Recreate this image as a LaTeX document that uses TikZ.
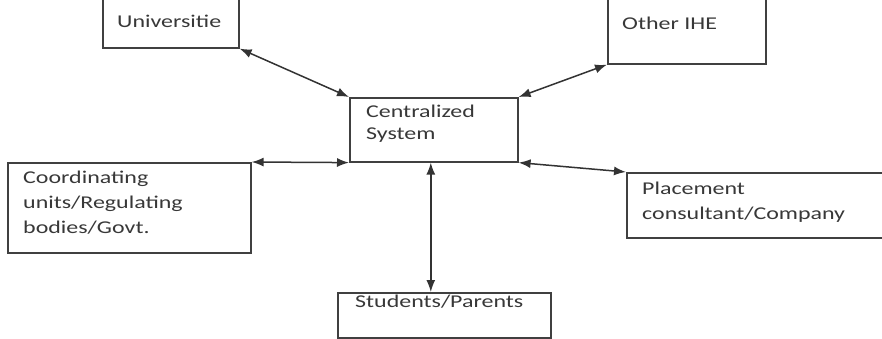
\documentclass[tikz,border=0pt]{standalone}
\usepackage{fontspec}
\setmainfont{Carlito}[FakeStretch=1.33]
\usetikzlibrary{arrows.meta}
\begin{document}
\begin{tikzpicture}[x=1pt,y=-1pt,
  box/.style={draw=black!75,line width=1.6pt,inner sep=0pt,anchor=north west},
  txt/.style={anchor=north west,align=left,inner sep=0pt,text=black!78,font=\fontsize{18}{25}\selectfont},
  link/.style={draw=black!80,line width=1.5pt,{Latex[length=12pt,width=9pt]}-{Latex[length=12pt,width=9pt]}}]
\useasboundingbox[fill=white] (0,0) rectangle (882,338);
\clip (0,0) rectangle (882,338);
\node[box,minimum width=136pt,minimum height=57pt] (u) at (102,-10) {};
\node[txt] (ut) at (117,15) {Universitie};
\node[box,minimum width=158pt,minimum height=73pt] (o) at (607,-10) {};
\node[txt] (ot) at (622,17) {Other IHE};
\node[box,minimum width=168pt,minimum height=64pt] (c) at (349,97) {};
\node[txt,font=\fontsize{18}{22}\selectfont] (ct) at (366,105) {Centralized\\System};
\node[box,minimum width=243pt,minimum height=90pt] (g) at (7,162) {};
\node[txt] (gt) at (23,171) {Coordinating\\units/Regulating\\bodies/Govt.};
\node[box,minimum width=260pt,minimum height=65pt] (p) at (626,172) {};
\node[txt] (pt) at (642,182) {Placement\\consultant/Company};
\node[box,minimum width=213pt,minimum height=45pt] (s) at (337,292) {};
\node[txt] (st) at (355,295) {Students/Parents};
\draw[link] (u.south east) -- (c.north west);
\draw[link] (o.south west) -- (c.north east);
\draw[link] (g.north east) -- (c.south west);
\draw[link] (c.south east) -- (p.north west);
\draw[link] ([xshift=-3pt]c.south) -- ([xshift=-3pt]c.south |- s.north);
\end{tikzpicture}
\end{document}
